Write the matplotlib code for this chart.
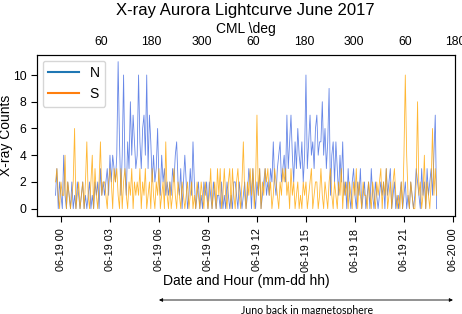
"""X-ray aurora lightcurve, June 2017 (north vs south counts)."""

import numpy as np
import pandas as pd
import matplotlib
matplotlib.use('Agg')
import matplotlib.pyplot as plt
import matplotlib.dates as mdates
import matplotlib.transforms as mtransforms
from matplotlib.lines import Line2D

plt.rcParams['font.family'] = ['Liberation Sans', 'DejaVu Sans']

# 5-minute bins starting 2017-06-18 23:40
start_time = '2017-06-18 23:40'
bin_width = '5min'

# North counts, one hour per row
counts_n = [
    1, 3, 0, 2, 1, 0, 4, 1, 0, 2, 1, 0,
    2, 0, 1, 0, 2, 1, 0, 1, 2, 0, 1, 0,
    1, 2, 0, 1, 0, 2, 1, 2, 0, 3, 1, 2,
    1, 2, 3, 1, 4, 2, 4, 3, 2, 4, 11, 5,
    1, 4, 10, 3, 1, 5, 3, 8, 4, 7, 5, 3,
    4, 10, 5, 3, 6, 7, 4, 10, 3, 7, 5, 2,
    4, 2, 3, 6, 2, 1, 4, 2, 3, 1, 2, 1,
    2, 1, 3, 2, 4, 5, 2, 1, 3, 0, 2, 4,
    2, 0, 1, 3, 1, 5, 2, 0, 1, 2, 0, 1,
    0, 2, 1, 2, 0, 2, 1, 0, 2, 1, 0, 1,
    1, 0, 2, 0, 1, 0, 2, 1, 0, 1, 0, 2,
    2, 1, 0, 2, 1, 0, 1, 2, 0, 1, 3, 2,
    0, 3, 1, 0, 2, 1, 3, 0, 1, 2, 3, 1,
    2, 1, 3, 2, 5, 2, 1, 3, 4, 5, 2, 3,
    4, 2, 7, 3, 5, 7, 4, 2, 5, 3, 6, 4,
    3, 5, 2, 4, 10, 3, 5, 7, 4, 5, 3, 6,
    7, 4, 5, 5, 8, 4, 6, 3, 5, 9, 1, 4,
    5, 2, 5, 3, 1, 4, 2, 5, 1, 2, 0, 3,
    1, 0, 2, 3, 1, 0, 2, 1, 3, 0, 1, 2,
    0, 1, 2, 0, 3, 1, 0, 2, 1, 0, 1, 2,
    1, 2, 0, 3, 1, 2, 3, 0, 1, 2, 0, 1,
    0, 1, 2, 0, 1, 2, 0, 1, 0, 2, 1, 0,
    1, 3, 2, 1, 0, 3, 1, 2, 0, 3, 1, 2,
    3, 1, 4, 7, 0,
]

# South counts, same bins
counts_s = [
    2, 3, 1, 0, 2, 1, 1, 4, 0, 2, 1, 0,
    1, 2, 6, 0, 1, 2, 0, 1, 2, 0, 2, 5,
    1, 0, 2, 4, 0, 3, 1, 0, 2, 5, 1, 2,
    2, 1, 0, 2, 3, 2, 0, 3, 2, 3, 1, 0,
    3, 0, 2, 3, 1, 0, 2, 1, 3, 0, 2, 1,
    2, 1, 3, 0, 2, 1, 3, 0, 1, 2, 0, 3,
    1, 0, 2, 1, 3, 0, 1, 2, 0, 5, 1, 0,
    2, 0, 1, 3, 1, 0, 2, 1, 0, 2, 1, 0,
    1, 2, 0, 1, 2, 0, 1, 0, 2, 1, 0, 2,
    1, 0, 2, 1, 0, 1, 3, 0, 1, 2, 0, 3,
    1, 3, 0, 1, 3, 1, 0, 2, 3, 0, 3, 1,
    0, 2, 3, 1, 0, 2, 5, 1, 0, 2, 1, 3,
    1, 3, 0, 2, 7, 1, 3, 0, 2, 1, 3, 2,
    3, 1, 2, 0, 1, 3, 2, 1, 0, 2, 1, 3,
    2, 3, 1, 2, 0, 3, 1, 2, 0, 1, 2, 0,
    1, 0, 2, 1, 2, 0, 1, 2, 3, 0, 1, 2,
    2, 0, 1, 3, 1, 0, 2, 1, 0, 2, 3, 1,
    0, 2, 1, 0, 2, 1, 3, 0, 2, 1, 2, 0,
    2, 1, 0, 2, 1, 3, 0, 2, 1, 0, 2, 1,
    1, 0, 2, 1, 0, 2, 1, 0, 2, 1, 2, 3,
    0, 2, 1, 3, 0, 1, 2, 0, 2, 3, 1, 0,
    1, 0, 2, 0, 4, 10, 4, 1, 0, 2, 1, 0,
    0, 2, 8, 1, 2, 0, 1, 4, 0, 2, 1, 0,
    2, 6, 1, 3, 1,
]

# Top axis: central meridian longitude ticks (hours after 06-19 00)
cml_hours = [2.45, 5.51, 8.63, 11.76, 14.88, 17.94, 21.07, 24.13]
cml_labels = ['60', '180', '300', '60', '180', '300', '60', '180']

times = pd.date_range(start_time, periods=len(counts_n), freq=bin_width)
day0 = pd.Timestamp('2017-06-19 00:00')

fig = plt.figure(figsize=(4.62, 3.14), dpi=100)
ax = fig.add_axes([0.080, 0.312, 0.905, 0.513])

ax.plot(times, counts_n, color='royalblue', lw=0.6, alpha=0.8)
ax.plot(times, counts_s, color='orange', lw=0.6, alpha=0.8)

x_left = day0 + pd.Timedelta(hours=-1.47)
x_right = day0 + pd.Timedelta(hours=24.13)
ax.set_xlim(x_left, x_right)
ax.set_ylim(-0.55, 11.5)
ax.set_yticks([0, 2, 4, 6, 8, 10])

ax.xaxis.set_major_locator(mdates.HourLocator(byhour=range(0, 24, 3)))
ax.xaxis.set_major_formatter(mdates.DateFormatter('%m-%d %H'))
ax.tick_params(axis='x', labelrotation=90, labelsize=7.8, length=4, pad=5)
ax.tick_params(axis='y', labelsize=8.7, length=4)
ax.set_xlabel('Date and Hour (mm-dd hh)', fontsize=10)
ax.xaxis.set_label_coords(0.5, -0.36)
ax.set_ylabel('X-ray Counts', fontsize=10)
ax.yaxis.set_label_coords(-0.058, 0.5)

for sp in ax.spines.values():
    sp.set_color('#333333')

handles = [Line2D([], [], color='tab:blue', lw=1.5),
           Line2D([], [], color='tab:orange', lw=1.5)]
ax.legend(handles, ['N', 'S'], loc='upper left', fontsize=10,
          handlelength=2.2, borderaxespad=0.4)

# top axis with CML
ax2 = ax.twiny()
ax2.set_xlim(ax.get_xlim())
cml_pos = [mdates.date2num(day0 + pd.Timedelta(hours=h)) for h in cml_hours]
ax2.set_xticks(cml_pos)
ax2.set_xticklabels(cml_labels)
ax2.tick_params(axis='x', labelsize=8.7, length=0, pad=5)
ax2.set_xlabel('CML \\deg', fontsize=10)
ax2.xaxis.set_label_coords(0.5, 1.135)

fig.text(0.532, 0.965, 'X-ray Aurora Lightcurve June 2017',
         ha='center', va='center', fontsize=12)

# Juno annotation below the figure
trans = mtransforms.blended_transform_factory(ax.transData, fig.transFigure)
x_a = mdates.date2num(day0 + pd.Timedelta(hours=6))
x_b = mdates.date2num(day0 + pd.Timedelta(hours=24))
ax.annotate('', xy=(x_a, 1 - 300 / 314), xytext=(x_b, 1 - 300 / 314),
            xycoords=trans, textcoords=trans, annotation_clip=False,
            arrowprops=dict(arrowstyle='<|-|>', color='black', lw=0.6,
                            mutation_scale=5, shrinkA=0, shrinkB=0))
fig.text(307 / 462, 1 - 310 / 314, 'Juno back in magnetosphere',
         ha='center', va='center', fontsize=7.6, family='Lato')

fig.savefig('out.png', dpi=100)
